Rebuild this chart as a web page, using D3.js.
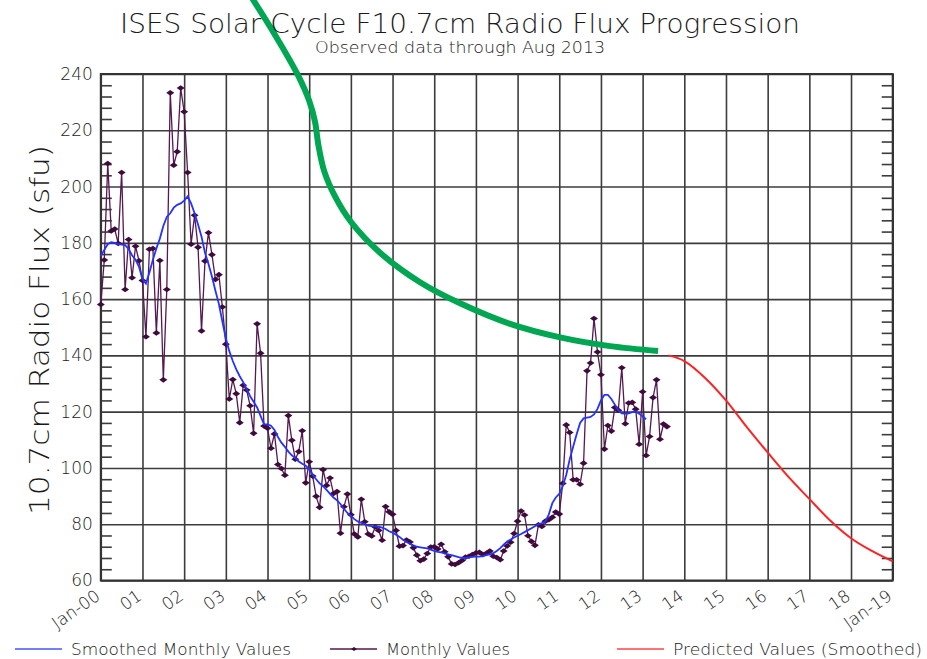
<!DOCTYPE html>
<html lang="en">
<head>
<meta charset="utf-8">
<title>ISES Solar Cycle F10.7cm Radio Flux Progression</title>
<script src="https://cdn.jsdelivr.net/npm/d3@7"></script>
<style>
  body { margin: 0; background: #fff; }
  text { font-family: "DejaVu Sans", sans-serif; font-weight: 200; fill: #1a1a1a; }
</style>
</head>
<body>
<script>
// observed monthly F10.7 values, Jan 2000 .. Aug 2013
const monthly = [
  158.1, 173.9, 208.2, 184.2, 184.9, 179.8, 205.0, 163.4, 181.2, 167.6, 178.8, 173.6,
  166.6, 146.6, 177.7, 178.0, 148.0, 173.7, 131.3, 163.4, 233.3, 207.6, 212.4, 235.0,
  226.6, 205.0, 179.5, 189.8, 178.4, 148.7, 173.5, 183.6, 175.8, 167.0, 168.7, 157.2,
  144.0, 124.5, 131.4, 126.4, 116.1, 129.4, 127.7, 122.1, 112.3, 151.2, 140.8, 114.9,
  114.1, 107.0, 112.1, 101.2, 99.8, 97.4, 118.6, 109.8, 103.1, 105.8, 113.2, 94.7,
  102.2, 97.1, 89.9, 86.0, 99.4, 93.8, 96.4, 90.9, 91.6, 76.8, 86.2, 90.7,
  83.4, 76.5, 75.5, 88.9, 80.9, 76.5, 75.8, 79.0, 77.8, 74.3, 86.3, 84.4,
  83.5, 77.8, 72.2, 72.4, 74.4, 73.7, 71.6, 69.0, 67.0, 67.6, 69.6, 71.9,
  72.0, 71.2, 72.9, 70.2, 68.4, 65.9, 65.7, 66.3, 67.1, 68.3, 68.6, 69.2,
  69.8, 70.0, 69.2, 69.7, 70.5, 68.6, 68.2, 67.4, 70.5, 72.3, 73.6, 76.7,
  81.1, 84.7, 83.3, 75.9, 73.9, 72.5, 79.8, 79.2, 81.1, 81.6, 82.5, 84.3,
  83.6, 94.5, 115.3, 112.6, 95.8, 95.8, 94.2, 101.7, 134.5, 137.3, 153.1, 141.2,
  133.1, 106.7, 115.1, 113.1, 121.5, 120.5, 135.6, 115.7, 123.1, 123.3, 120.9, 108.4,
  127.1, 104.4, 111.2, 125.0, 131.3, 110.2, 115.6, 114.7
];

// smoothed monthly values, Jan 2000 .. Feb 2013
const smoothed = [
  175.3, 177.5, 179.5, 180.2, 180.0, 179.6, 179.4, 179.2, 177.8, 175.6, 174.0, 171.5,
  167.0, 165.5, 169.5, 174.0, 178.0, 181.5, 186.0, 189.2, 190.5, 192.5, 193.5, 194.0,
  195.0, 196.5, 194.0, 190.5, 186.5, 182.2, 176.5, 172.5, 168.0, 163.0, 158.3, 152.0,
  146.0, 141.5, 138.0, 135.0, 132.6, 130.5, 128.0, 125.5, 123.5, 121.5, 118.5, 115.5,
  115.5, 115.0, 113.5, 111.0, 109.0, 107.5, 105.8, 104.5, 103.5, 102.3, 101.5, 100.8,
  99.5, 97.5, 96.0, 94.5, 93.5, 92.2, 90.8, 89.5, 88.5, 87.2, 85.5, 84.0,
  83.0, 81.8, 81.0, 80.5, 80.0, 79.5, 79.3, 79.2, 79.1, 78.8, 78.3, 77.5,
  77.0, 76.3, 75.5, 74.5, 73.8, 73.0, 72.5, 72.0, 71.8, 71.6, 71.4, 71.0,
  70.5, 70.2, 70.0, 69.6, 69.3, 69.0, 68.7, 68.3, 68.0, 68.0, 68.2, 68.4,
  68.5, 68.5, 68.7, 69.0, 69.3, 69.7, 70.5, 71.5, 72.7, 73.9, 74.6, 75.3,
  75.9, 76.5, 77.2, 77.9, 78.6, 79.3, 80.0, 80.4, 81.0, 83.5, 87.5, 89.5,
  90.8, 93.5, 97.5, 103.0, 107.5, 112.0, 116.0, 117.6, 117.9, 118.1, 119.0, 121.0,
  124.0, 126.0, 126.0, 124.5, 122.5, 120.5, 119.4, 119.3, 119.4, 119.8, 120.1, 119.3,
  118.3, 117.3
];

// predicted smoothed values: [years since Jan 2000, sfu]
const predicted = [
  [13.62, 140.0], [14.0, 138.0], [14.5, 132.0], [15.0, 124.0], [15.5, 114.5],
  [16.0, 105.5], [16.5, 96.8], [17.0, 89.0], [17.5, 81.3], [18.0, 75.0],
  [18.5, 70.5], [19.0, 66.8]
];

// hand drawn green annotation: [years since Jan 2000, sfu]
const annotation = [
  [3.58, 268.1], [4.18, 253.9], [4.73, 239.6], [5.0, 230.5], [5.14, 223.0],
  [5.22, 214.8], [5.36, 205.5], [5.62, 196.5], [6.0, 187.5], [6.7, 176.5],
  [7.66, 166.0], [8.62, 158.5], [9.82, 151.2], [11.02, 146.4], [12.22, 143.3],
  [13.37, 141.6]
];

const xTickLabels = ["Jan-00", "01", "02", "03", "04", "05", "06", "07", "08", "09",
  "10", "11", "12", "13", "14", "15", "16", "17", "18", "Jan-19"];
const yTicks = [60, 80, 100, 120, 140, 160, 180, 200, 220, 240];

const W = 927, H = 659;
const PL = 100.8, PR = 892.7, PT = 74, PB = 580.5;

var svg = d3.select("body").append("svg")
  .attr("width", W)
  .attr("height", H);

var x = d3.scaleLinear().domain([0, 19]).range([PL, PR]);
var y = d3.scaleLinear().domain([60, 240]).range([PB, PT]);

const GRID = "#3c3c3c";

// grid + y labels
var gy = svg.append("g")
  .attr("transform", "translate(" + PL + ",0)")
  .call(d3.axisLeft(y).tickValues(yTicks).tickSize(-(PR - PL)).tickPadding(8));
gy.select(".domain").remove();
gy.selectAll("line").attr("stroke", GRID).attr("stroke-width", 1.6);
gy.selectAll("text").attr("font-size", 17).style("fill", "#1a1a1a");

var gx = svg.append("g")
  .attr("transform", "translate(0," + PB + ")")
  .call(d3.axisBottom(x).tickValues(d3.range(0, 20)).tickSize(-(PB - PT))
    .tickFormat(function(d) { return xTickLabels[d]; }));
gx.select(".domain").remove();
gx.selectAll("line").attr("stroke", GRID).attr("stroke-width", 1.6);
gx.selectAll("text")
  .attr("font-size", 17)
  .style("fill", "#1a1a1a")
  .attr("text-anchor", "end")
  .attr("dy", null)
  .attr("y", 0)
  .attr("transform", "translate(0,18) rotate(-35)");

// minor ticks every 4 sfu on both sides
var minor = d3.range(60, 241, 4).filter(function(d) { return d % 20 != 0; });
var ml = svg.append("g").attr("transform", "translate(" + PL + ",0)")
  .call(d3.axisLeft(y).tickValues(minor).tickSize(-11).tickFormat(""));
var mr = svg.append("g").attr("transform", "translate(" + PR + ",0)")
  .call(d3.axisRight(y).tickValues(minor).tickSize(-11).tickFormat(""));
ml.select(".domain").remove();
mr.select(".domain").remove();
ml.selectAll("line").attr("stroke", GRID).attr("stroke-width", 1.6);
mr.selectAll("line").attr("stroke", GRID).attr("stroke-width", 1.6);

// frame
svg.append("rect")
  .attr("x", PL).attr("y", PT)
  .attr("width", PR - PL).attr("height", PB - PT)
  .attr("fill", "none").attr("stroke", "#333").attr("stroke-width", 2);

var line = d3.line()
  .x(function(d) { return x(d[0]); })
  .y(function(d) { return y(d[1]); });

var monthlyPts = monthly.map(function(v, i) { return [i / 12, v]; });
var smoothPts = smoothed.map(function(v, i) { return [i / 12, v]; });

// monthly values
svg.append("path")
  .attr("d", line(monthlyPts))
  .attr("fill", "none").attr("stroke", "#551850").attr("stroke-width", 1.3);
svg.selectAll(".mk").data(monthlyPts).enter().append("path")
  .attr("class", "mk")
  .attr("d", "M-4,0L0,-2.8L4,0L0,2.8Z")
  .attr("transform", function(d) { return "translate(" + x(d[0]) + "," + y(d[1]) + ")"; })
  .attr("fill", "#3f0a3c");

// smoothed
svg.append("path")
  .attr("d", line(smoothPts))
  .attr("fill", "none").attr("stroke", "#2233ff").attr("stroke-width", 1.8);

// predicted
svg.append("path")
  .attr("d", d3.line().x(function(d) { return x(d[0]); }).y(function(d) { return y(d[1]); })
    .curve(d3.curveMonotoneX)(predicted))
  .attr("fill", "none").attr("stroke", "#ff2222").attr("stroke-width", 2);

// green annotation
svg.append("path")
  .attr("d", d3.line().x(function(d) { return x(d[0]); }).y(function(d) { return y(d[1]); })
    .curve(d3.curveCatmullRom)(annotation))
  .attr("fill", "none").attr("stroke", "#00a651").attr("stroke-width", 6);

// titles
svg.append("text")
  .attr("x", 460).attr("y", 33)
  .attr("text-anchor", "middle")
  .attr("font-size", 27)
  .attr("textLength", 680).attr("lengthAdjust", "spacingAndGlyphs")
  .text("ISES Solar Cycle F10.7cm Radio Flux Progression");
svg.append("text")
  .attr("x", 460).attr("y", 53)
  .attr("text-anchor", "middle")
  .attr("font-size", 16)
  .attr("textLength", 290).attr("lengthAdjust", "spacingAndGlyphs")
  .text("Observed data through Aug 2013");
svg.append("text")
  .attr("transform", "translate(49,330) rotate(-90)")
  .attr("text-anchor", "middle")
  .attr("font-size", 27)
  .attr("textLength", 370).attr("lengthAdjust", "spacingAndGlyphs")
  .text("10.7cm Radio Flux (sfu)");

// legend
var legend = [
  { x: 15, label: "Smoothed Monthly Values", color: "#4455ff", len: 220, dot: false },
  { x: 330, label: "Monthly Values", color: "#551850", len: 124, dot: true },
  { x: 617, label: "Predicted Values (Smoothed)", color: "#ff4444", len: 249, dot: false }
];
var lg = svg.selectAll(".lg").data(legend).enter().append("g").attr("class", "lg");
lg.append("line")
  .attr("x1", function(d) { return d.x; }).attr("x2", function(d) { return d.x + 47; })
  .attr("y1", 649).attr("y2", 649)
  .attr("stroke", function(d) { return d.color; }).attr("stroke-width", 1.5);
lg.filter(function(d) { return d.dot; }).append("path")
  .attr("d", "M-3,0L0,-2L3,0L0,2Z")
  .attr("transform", function(d) { return "translate(" + (d.x + 24) + ",649)"; })
  .attr("fill", "#3f0a3c");
lg.append("text")
  .attr("x", function(d) { return d.x + 56; }).attr("y", 655)
  .attr("font-size", 16)
  .attr("textLength", function(d) { return d.len; }).attr("lengthAdjust", "spacingAndGlyphs")
  .text(function(d) { return d.label; });
</script>
</body>
</html>
